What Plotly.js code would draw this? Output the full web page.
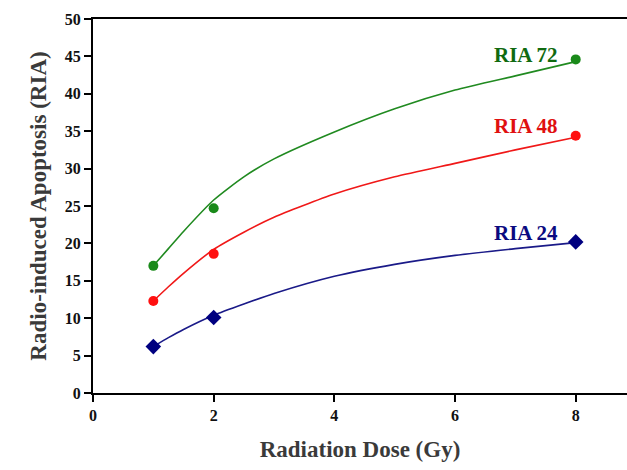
<!DOCTYPE html>
<html>
<head>
<meta charset="utf-8">
<script src="https://cdn.plot.ly/plotly-3.0.1.min.js"></script>
<style>html,body{margin:0;padding:0;background:#fff;}#chart{width:627px;height:470px;}</style>
</head>
<body>
<div id="chart"></div>
<script>
// Measured points
const doses = [1, 2, 8];
const ria72 = [17.0, 24.7, 44.6];
const ria48 = [12.3, 18.6, 34.4];
const ria24 = [6.2, 10.1, 20.2];

// Fitted curves
const curveX = [1, 1.25, 1.5, 2, 2.5, 3, 4, 5, 6, 7, 8];
const fit72 = [17.0, 19.3, 21.6, 25.8, 28.9, 31.3, 34.9, 38.0, 40.5, 42.4, 44.3];
const fit48 = [12.3, 14.2, 16.0, 19.2, 21.5, 23.5, 26.6, 28.9, 30.7, 32.5, 34.2];
const fit24 = [6.2, 7.4, 8.5, 10.4, 11.9, 13.3, 15.6, 17.2, 18.4, 19.3, 20.1];

const seriesNames = ['RIA 72', 'RIA 48', 'RIA 24'];
const labelX = 7.74;
const labelY = [45.2, 35.7, 21.4];

const lineColors = ['#208a20', '#f01818', '#1a1a88'];
const textColors = ['#106a10', '#e01010', '#0a0a80'];
const markerColors = ['#1a8a1a', '#ff1010', '#000080'];
const symbols = ['circle', 'circle', 'diamond'];
const pts = [ria72, ria48, ria24];
const fits = [fit72, fit48, fit24];

const traces = [];
for (let i = 0; i < 3; i++) {
  traces.push({
    x: curveX, y: fits[i], mode: 'lines', type: 'scatter',
    line: {color: lineColors[i], width: 1.6, shape: 'spline', smoothing: 0.6},
    hoverinfo: 'skip', showlegend: false
  });
  traces.push({
    x: doses, y: pts[i], mode: 'markers', type: 'scatter', name: seriesNames[i],
    marker: {color: markerColors[i], size: symbols[i] === 'diamond' ? 12 : 10, symbol: symbols[i]},
    cliponaxis: false, showlegend: false
  });
}

const annotations = seriesNames.map((n, i) => ({
  x: labelX, y: labelY[i], xref: 'x', yref: 'y', text: '<b>' + n + '</b>',
  showarrow: false, xanchor: 'right', yanchor: 'middle',
  font: {family: 'Liberation Serif, Times New Roman, serif', size: 21, color: textColors[i]}
}));

const layout = {
  width: 627, height: 470,
  margin: {l: 93, r: 0, t: 19, b: 77},
  paper_bgcolor: '#ffffff', plot_bgcolor: '#ffffff',
  showlegend: false,
  xaxis: {
    range: [0, 8.85], tickvals: [0, 2, 4, 6, 8], ticktext: ['0', '2', '4', '6', '8'],
    showgrid: false, zeroline: false, showline: true, linecolor: '#000', linewidth: 2,
    mirror: true, ticks: 'outside', ticklen: 7, tickwidth: 2, tickcolor: '#000',
    tickfont: {family: 'Liberation Serif, serif', size: 16, color: '#111', weight: 'bold'},
    title: {text: '<b>Radiation Dose (Gy)</b>', standoff: 18,
      font: {family: 'Liberation Serif, Times New Roman, serif', size: 23, color: '#3a3a3a'}}
  },
  yaxis: {
    range: [0, 50], tickvals: [0, 5, 10, 15, 20, 25, 30, 35, 40, 45, 50],
    showgrid: false, zeroline: false, showline: true, linecolor: '#000', linewidth: 2,
    ticks: 'outside', ticklen: 7, tickwidth: 2, tickcolor: '#000',
    tickfont: {family: 'Liberation Serif, serif', size: 16, color: '#111', weight: 'bold'},
    title: {text: '<b>Radio-induced Apoptosis (RIA)</b>', standoff: 12,
      font: {family: 'Liberation Serif, Times New Roman, serif', size: 23, color: '#3a3a3a'}}
  },
  annotations: annotations
};

Plotly.newPlot('chart', traces, layout, {displayModeBar: false, staticPlot: true});
</script>
</body>
</html>
